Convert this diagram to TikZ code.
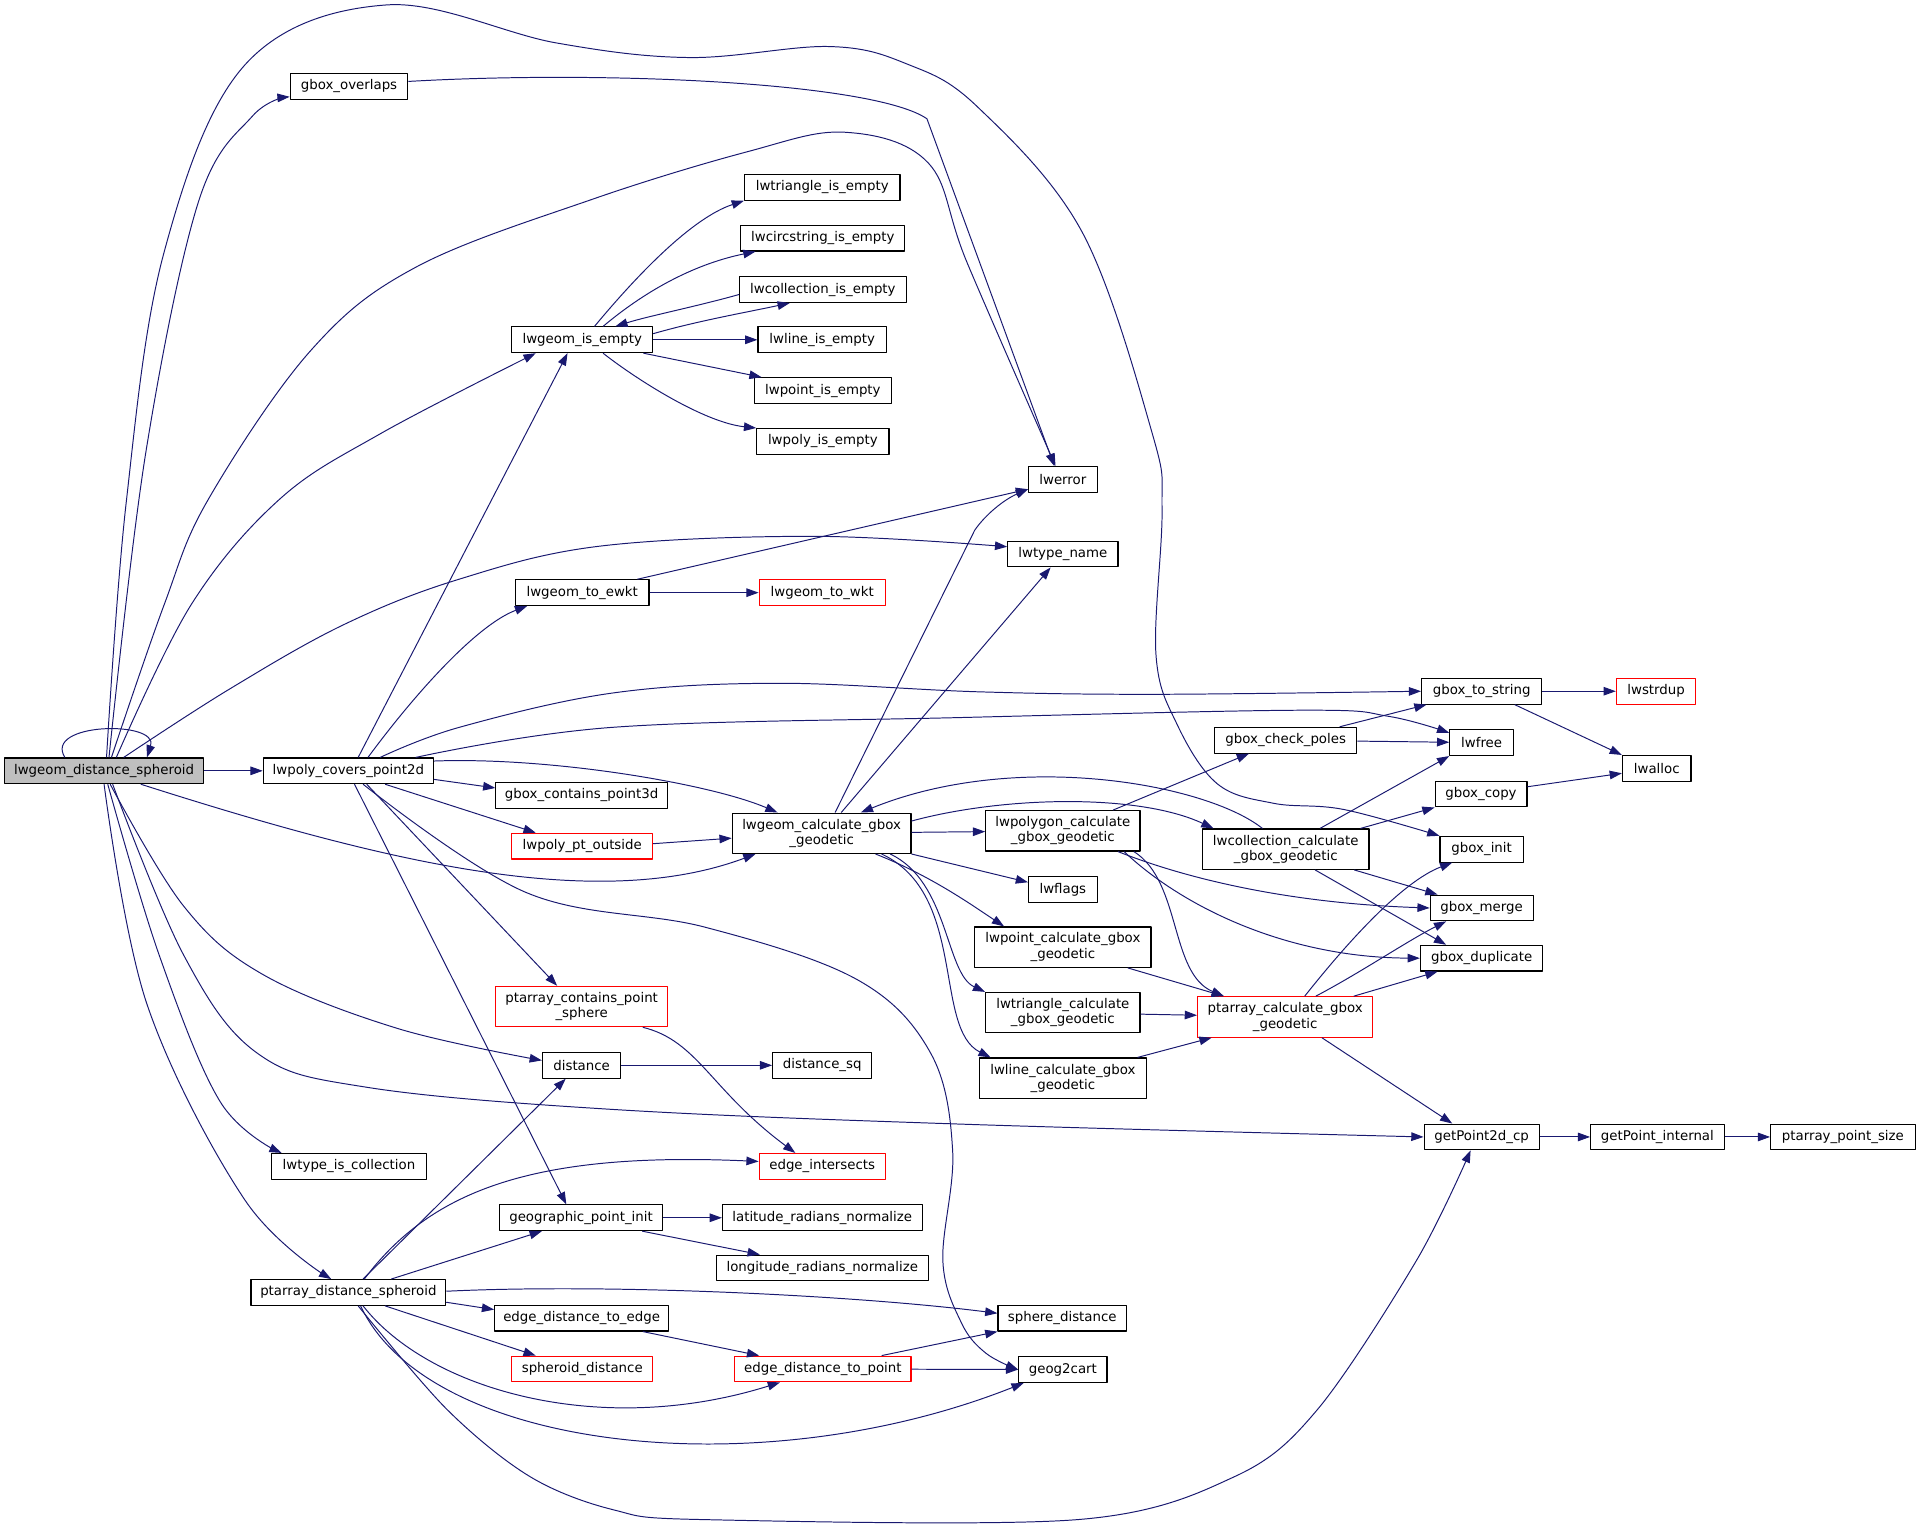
\documentclass[tikz,border=0pt]{standalone}
\usepackage{fontspec}
\setmainfont{DejaVu Sans}
\usetikzlibrary{arrows.meta}
\definecolor{edgeblue}{HTML}{191970}
\definecolor{rootfill}{HTML}{BFBFBF}

\begin{document}
\begin{tikzpicture}[x=1pt,y=-1pt,line join=round,
    fn/.style={draw=black,line width=0.9pt,fill=white,inner xsep=2pt,inner ysep=4pt,
      minimum height=21pt,font=\fontsize{10.9}{12.5}\selectfont,align=center},
    fnred/.style={fn,draw=red},
    fntwo/.style={minimum height=33pt},
    calls/.style={draw=edgeblue,line width=0.8pt,-{Triangle[length=10pt,width=7pt]}}]
    \useasboundingbox (0,0) rectangle (1568,1247);

    \node[fn,fill=rootfill,minimum width=162pt] (dsph) at (85,629.5) {lwgeom\_distance\_spheroid};
    \node[fn,minimum width=139pt] (covers) at (284.5,629.5) {lwpoly\_covers\_point2d};
    \node[fn,minimum width=96pt] (overlaps) at (285,70.5) {gbox\_overlaps};
    \node[fn,minimum width=115pt] (isempty) at (475.5,277.5) {lwgeom\_is\_empty};
    \node[fn,minimum width=127pt] (triempty) at (671.5,153) {lwtriangle\_is\_empty};
    \node[fn,minimum width=134pt] (circempty) at (672,194.5) {lwcircstring\_is\_empty};
    \node[fn,minimum width=136pt] (collempty) at (672,236.5) {lwcollection\_is\_empty};
    \node[fn,minimum width=105pt] (lineempty) at (671.5,277.5) {lwline\_is\_empty};
    \node[fn,minimum width=112pt] (pointempty) at (672,319) {lwpoint\_is\_empty};
    \node[fn,minimum width=108pt] (polyempty) at (672,360.5) {lwpoly\_is\_empty};
    \node[fn,minimum width=56pt] (lwerror) at (868,391.5) {lwerror};
    \node[fn,minimum width=90pt] (typename) at (868,452.5) {lwtype\_name};
    \node[fn,minimum width=109pt] (toewkt) at (475.5,484) {lwgeom\_to\_ewkt};
    \node[fnred,minimum width=103pt] (towkt) at (671.5,484) {lwgeom\_to\_wkt};
    \node[fn,minimum width=98pt] (tostring) at (1210,564.5) {gbox\_to\_string};
    \node[fnred,minimum width=65pt] (strdup) at (1352.5,564.5) {lwstrdup};
    \node[fn,minimum width=116pt] (poles) at (1050,604.5) {gbox\_check\_poles};
    \node[fn,minimum width=52pt] (lwfree) at (1210,606.5) {lwfree};
    \node[fn,minimum width=56pt] (lwalloc) at (1353,627.5) {lwalloc};
    \node[fn,minimum width=140pt] (contains3d) at (475,649.5) {gbox\_contains\_point3d};
    \node[fn,fntwo,minimum width=146pt] (calcgbox) at (671,680.5) {lwgeom\_calculate\_gbox\\\_geodetic};
    \node[fnred,minimum width=115pt] (ptoutside) at (475.5,691) {lwpoly\_pt\_outside};
    \node[fn,fntwo,minimum width=126pt] (polycalc) at (868,678.5) {lwpolygon\_calculate\\\_gbox\_geodetic};
    \node[fn,fntwo,minimum width=136pt] (collcalc) at (1050,693.5) {lwcollection\_calculate\\\_gbox\_geodetic};
    \node[fn,minimum width=75pt] (gcopy) at (1209.5,648.5) {gbox\_copy};
    \node[fn,minimum width=68pt] (ginit) at (1210,693.5) {gbox\_init};
    \node[fn,minimum width=56pt] (lwflags) at (868,726.5) {lwflags};
    \node[fn,minimum width=84pt] (gmerge) at (1210,741.5) {gbox\_merge};
    \node[fn,fntwo,minimum width=144pt] (pointcalc) at (868,773.5) {lwpoint\_calculate\_gbox\\\_geodetic};
    \node[fn,minimum width=100pt] (gdup) at (1210,782.5) {gbox\_duplicate};
    \node[fnred,fntwo,minimum width=140pt] (containsph) at (475,822) {ptarray\_contains\_point\\\_sphere};
    \node[fn,fntwo,minimum width=126pt] (tricalc) at (868,827) {lwtriangle\_calculate\\\_gbox\_geodetic};
    \node[fnred,fntwo,minimum width=143pt] (ptcalc) at (1049.5,830.5) {ptarray\_calculate\_gbox\\\_geodetic};
    \node[fn,minimum width=64pt] (distance) at (475,870) {distance};
    \node[fn,minimum width=81pt] (distsq) at (671.5,870) {distance\_sq};
    \node[fn,fntwo,minimum width=136pt] (linecalc) at (868,880.5) {lwline\_calculate\_gbox\\\_geodetic};
    \node[fn,minimum width=94pt] (getp2d) at (1210,928.5) {getPoint2d\_cp};
    \node[fn,minimum width=109pt] (getpint) at (1353.5,928.5) {getPoint\_internal};
    \node[fn,minimum width=118pt] (ptsize) at (1505,928.5) {ptarray\_point\_size};
    \node[fn,minimum width=126pt] (iscoll) at (285,952.5) {lwtype\_is\_collection};
    \node[fnred,minimum width=103pt] (edgeint) at (671.5,952.5) {edge\_intersects};
    \node[fn,minimum width=133pt] (geoinit) at (474.5,994.5) {geographic\_point\_init};
    \node[fn,minimum width=163pt] (latnorm) at (671.5,994.5) {latitude\_radians\_normalize};
    \node[fn,minimum width=173pt] (lonnorm) at (671.5,1035.5) {longitude\_radians\_normalize};
    \node[fn,minimum width=159pt] (ptdsph) at (284.5,1055.5) {ptarray\_distance\_spheroid};
    \node[fn,minimum width=142pt] (e2e) at (475,1076.5) {edge\_distance\_to\_edge};
    \node[fnred,minimum width=115pt] (sphdist) at (475.5,1118) {spheroid\_distance};
    \node[fnred,minimum width=144pt] (e2p) at (672,1118) {edge\_distance\_to\_point};
    \node[fn,minimum width=105pt] (spheredist) at (867.5,1076.5) {sphere\_distance};
    \node[fn,minimum width=72pt] (geog2cart) at (868,1118.5) {geog2cart};

    \draw[calls] ([xshift=-32pt]dsph.north) .. controls (35,590) and (130,588) .. ([xshift=35pt]dsph.north);
    \draw[calls] plot[smooth,tension=0.6] coordinates {([xshift=2pt]dsph.north) (103,411) (134,206) (200,53) (316,4) (454,35) (563,47) (677,38) (740,52) (798,87) (884,190) (941,354) (949,416) (944,534) (961,591) (994,640) (1040,656) (1097,661) (ginit.north west)};
    \draw[calls] plot[smooth,tension=0.6] coordinates {([xshift=4pt]dsph.north) (119,370) (162,165) (206,95) (overlaps.190)};
    \draw[calls] plot[smooth,tension=0.6] coordinates {([xshift=6pt]dsph.north) (134,494) (170,408) (254,286) (340,218) (483,163) (610,124) (690,108) (758,133) (790,215) ([xshift=-6pt]lwerror.north)};
    \draw[calls] ([yshift=4pt]overlaps.east) .. controls (500,57) and (715,68) .. (757,97) -- ([xshift=-7pt]lwerror.north);
    \draw[calls] plot[smooth,tension=0.6] coordinates {([xshift=10pt]dsph.north) (156,494) (228,408) (311,354) ([xshift=-38pt]isempty.south)};
    \draw[calls] plot[smooth,tension=0.6] coordinates {([xshift=16pt]dsph.north) (187,563) (281,510) (375,473) (490,446) (665,438) ([yshift=6pt]typename.west)};
    \draw[calls] (dsph) -- (covers);
    \draw[calls] ([xshift=30pt]dsph.south) .. controls (305,701) and (484,747) .. ([xshift=-54pt]calcgbox.south);
    \draw[calls] plot[smooth,tension=0.6] coordinates {([xshift=5pt]dsph.south) (150,740) (215,796) (325,840) ([yshift=4pt]distance.west)};
    \draw[calls] plot[smooth,tension=0.6] coordinates {([xshift=7pt]dsph.south) (150,780) (210,860) (300,888) (500,906) (784,918) (getp2d.west)};
    \draw[calls] plot[smooth,tension=0.6] coordinates {([xshift=3pt]dsph.south) (130,780) (180,900) ([xshift=-55pt]iscoll.north)};
    \draw[calls] plot[smooth,tension=0.6] coordinates {(dsph.south) (120,820) (200,980) ([xshift=-14pt]ptdsph.north)};

    \draw[calls] ([xshift=8pt]covers.north) -- ([xshift=-12pt]isempty.south);
    \draw[calls] ([xshift=16pt]covers.north) .. controls (340,565) and (390,510) .. ([xshift=-45pt]toewkt.south);
    \draw[calls] plot[smooth,tension=0.6] coordinates {([xshift=26pt]covers.north) (375,594) (500,566) (635,558) (800,565) (946,567) (tostring.west)};
    \draw[calls] plot[smooth,tension=0.6] coordinates {([xshift=55pt]covers.north) (500,594) (784,586) (1064,580) (1134,585) ([yshift=8pt]lwfree.west)};
    \draw[calls] ([yshift=-7pt]covers.east) -- ([yshift=6pt]contains3d.west);
    \draw[calls] ([yshift=8pt]covers.east) .. controls (450,618) and (580,640) .. ([xshift=-36pt]calcgbox.north);
    \draw[calls] ([xshift=30pt]covers.south) -- ([xshift=-38pt]ptoutside.north);
    \draw[calls] ([xshift=15pt]covers.south) -- ([xshift=-20pt]containsph.north);
    \draw[calls] ([xshift=5pt]covers.south) -- ([xshift=-12pt]geoinit.north);
    \draw[calls] plot[smooth,tension=0.6] coordinates {([xshift=12pt]covers.south) (430,729) (575,757) (700,800) (760,860) (778,940) (770,1030) (785,1080) (805,1105) (geog2cart.west)};

    \draw[calls] ([xshift=10pt]isempty.north) .. controls (520,225) and (565,178) .. (triempty.south west);
    \draw[calls] ([xshift=17pt]isempty.north) .. controls (530,235) and (570,215) .. ([xshift=-55pt]circempty.south);
    \draw[calls] ([yshift=-4pt]collempty.west) .. controls (570,250) and (530,258) .. ([xshift=27pt]isempty.north);
    \draw[calls] ([yshift=5pt]isempty.east) .. controls (570,262) and (610,255) .. ([xshift=-27pt]collempty.south);
    \draw[calls] (isempty) -- (lineempty);
    \draw[calls] ([xshift=50pt]isempty.south) -- ([xshift=-50pt]pointempty.north);
    \draw[calls] ([xshift=17pt]isempty.south) .. controls (520,310) and (575,345) .. (polyempty.north west);

    \draw[calls] (toewkt) -- (towkt);
    \draw[calls] ([xshift=45pt]toewkt.north) -- ([yshift=-8pt]lwerror.west);

    \draw[calls] ([xshift=11pt]calcgbox.north) -- (796,433) .. controls (805,420) and (820,408) .. ([yshift=-8pt]lwerror.west);
    \draw[calls] ([xshift=16pt]calcgbox.north) -- ([xshift=-10pt]typename.south);
    \draw[calls] ([yshift=2pt]ptoutside.east) -- ([yshift=-4pt]calcgbox.west);
    \draw[calls] (calcgbox) -- (polycalc);
    \draw[calls] ([yshift=10pt]calcgbox.east) .. controls (820,650) and (930,648) .. ([xshift=-59pt]collcalc.north);
    \draw[calls] ([xshift=-19pt]collcalc.north) .. controls (985,640) and (830,612) .. ([xshift=32pt]calcgbox.north);
    \draw[calls] (calcgbox.south east) -- ([yshift=6pt]lwflags.west);
    \draw[calls] ([xshift=44pt]calcgbox.south) .. controls (760,715) and (795,740) .. ([xshift=-48pt]pointcalc.north);
    \draw[calls] ([xshift=56pt]calcgbox.south) .. controls (775,720) and (772,795) .. (tricalc.north west);
    \draw[calls] ([xshift=49pt]calcgbox.south) .. controls (790,730) and (762,840) .. ([xshift=-59pt]linecalc.north);

    \draw[calls] ([xshift=41pt]polycalc.north) -- ([xshift=-30pt]poles.south);
    \draw[calls] ([xshift=45pt]polycalc.south) .. controls (975,720) and (1060,738) .. (gmerge.west);
    \draw[calls] ([xshift=50pt]polycalc.south) .. controls (965,740) and (1050,782) .. (gdup.west);
    \draw[calls] ([xshift=58pt]polycalc.south) .. controls (965,720) and (955,795) .. ([xshift=-50pt]ptcalc.north);

    \draw[calls] ([xshift=28pt]collcalc.north) -- (lwfree.south west);
    \draw[calls] ([xshift=61pt]collcalc.north) -- (gcopy.south west);
    \draw[calls] ([xshift=56pt]collcalc.south) -- ([xshift=-36pt]gmerge.north);
    \draw[calls] ([xshift=24pt]collcalc.south) -- ([xshift=-29pt]gdup.north);

    \draw[calls] ([xshift=16pt]ptcalc.north) .. controls (1100,770) and (1145,720) .. ([xshift=-24pt]ginit.south);
    \draw[calls] ([xshift=25pt]ptcalc.north) .. controls (1110,795) and (1150,768) .. ([xshift=-29pt]gmerge.south);
    \draw[calls] ([xshift=56pt]ptcalc.north) -- ([xshift=-36pt]gdup.south);
    \draw[calls] ([xshift=30pt]ptcalc.south) -- ([xshift=-24pt]getp2d.north);
    \draw[calls] ([xshift=53pt]pointcalc.south) -- ([xshift=-50pt]ptcalc.north);
    \draw[calls] (tricalc) -- (ptcalc);
    \draw[calls] ([xshift=61pt]linecalc.north) -- ([xshift=-60pt]ptcalc.south);

    \draw[calls] ([yshift=6pt]gcopy.east) -- ([yshift=-4pt]lwalloc.west);
    \draw[calls] ([xshift=44pt]poles.north) -- ([xshift=-45pt]tostring.south);
    \draw[calls] (poles) -- (lwfree);
    \draw[calls] (tostring) -- (strdup);
    \draw[calls] ([xshift=27pt]tostring.south) -- (lwalloc.north west);
    \draw[calls] (getp2d) -- (getpint);
    \draw[calls] (getpint) -- (ptsize);

    \draw[calls] ([xshift=50pt]containsph.south) .. controls (570,850) and (580,890) .. ([xshift=-22pt]edgeint.north);
    \draw[calls] (distance) -- (distsq);
    \draw[calls] (geoinit) -- (latnorm);
    \draw[calls] ([xshift=50pt]geoinit.south) -- ([xshift=-51pt]lonnorm.north);

    \draw[calls] ([xshift=12pt]ptdsph.north) -- ([xshift=-13pt]distance.south);
    \draw[calls] ([xshift=13pt]ptdsph.north) .. controls (350,975) and (430,940) .. ([yshift=4pt]edgeint.west);
    \draw[calls] ([xshift=35pt]ptdsph.north) -- ([xshift=-32pt]geoinit.south);
    \draw[calls] ([yshift=1pt]ptdsph.east) .. controls (500,1048) and (700,1058) .. ([yshift=4pt]spheredist.west);
    \draw[calls] ([yshift=-8pt]ptdsph.east) -- ([yshift=7pt]e2e.west);
    \draw[calls] ([xshift=30pt]ptdsph.south) -- ([xshift=-38pt]sphdist.north);
    \draw[calls] ([xshift=12pt]ptdsph.south) .. controls (350,1135) and (490,1175) .. ([xshift=-35pt]e2p.south);
    \draw[calls] ([xshift=10pt]ptdsph.south) .. controls (350,1185) and (620,1215) .. ([xshift=-32pt]geog2cart.south);
    \draw[calls] plot[smooth,tension=0.55] coordinates {([xshift=8pt]ptdsph.south) (365,1151) (433,1206) (501,1233) (575,1241) (880,1241) (1008,1206) (1076,1151) (1157,1029) ([xshift=-9pt]getp2d.south)};
    \draw[calls] ([xshift=50pt]e2e.south) -- ([xshift=-52pt]e2p.north);
    \draw[calls] ([xshift=48pt]e2p.north) -- (spheredist.south west);
    \draw[calls] (e2p) -- (geog2cart);
\end{tikzpicture}
\end{document}
